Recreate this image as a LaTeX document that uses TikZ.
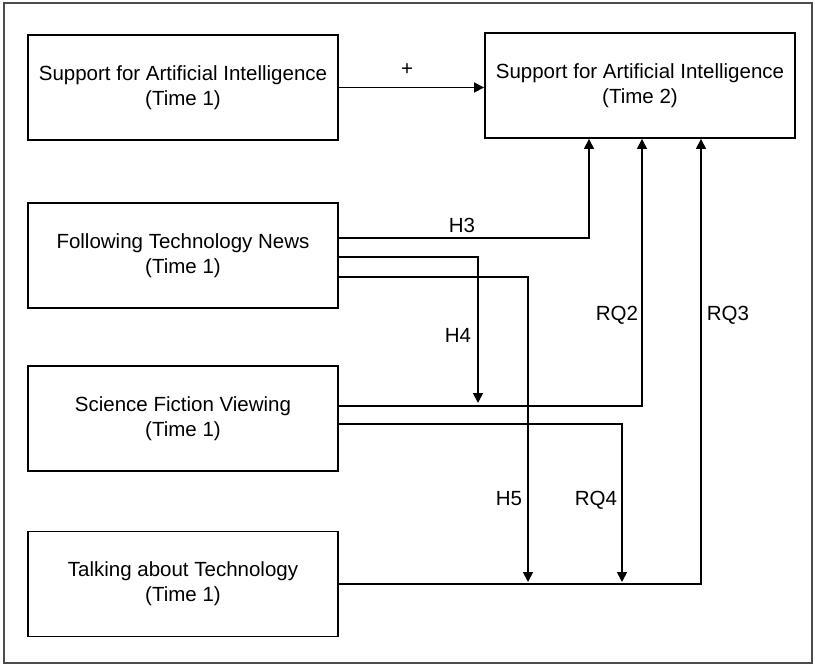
\documentclass[tikz,border=0pt]{standalone}
\usepackage{fontspec}
\setmainfont{Liberation Sans}
\usetikzlibrary{arrows.meta}

\begin{document}
\begin{tikzpicture}[x=1pt, y=-1pt,
    box/.style={draw, line width=1.9pt, minimum width=310pt, minimum height=105pt, align=center, inner sep=0pt, font=\fontsize{20.5}{25}\selectfont},
    link/.style={line width=1.7pt, -{Triangle[length=10pt, width=10pt]}},
    lbl/.style={font=\fontsize{20.5}{25}\selectfont}]
    \useasboundingbox (0,0) rectangle (815,666);
    \draw[gray!60!black, line width=1.2pt] (4,3) rectangle (812,663);

    % Boxes
    \node[box] (sai1) at (183,87.5) {Support for Artificial Intelligence\\(Time 1)};
    \node[box] (sai2) at (640,85.5) {Support for Artificial Intelligence\\(Time 2)};
    \node[box] (news) at (183,255.5) {Following Technology News\\(Time 1)};
    \node[box] (scifi) at (183,418.5) {Science Fiction Viewing\\(Time 1)};
    \node[box] (talk) at (183,584) {Talking about Technology\\(Time 1)};

    % Arrow ends on the lines
    \coordinate (h4tip) at (478,403);
    \coordinate (h5tip) at (528,582);
    \coordinate (rq4tip) at (622,582);

    % Paths
    \draw[link] (sai1.east) -- (sai1.east -| sai2.west);
    \draw[link] (news.east |- 0,238) -| (sai2.south -| 589,0);
    \draw[link] (news.east |- 0,257) -| (h4tip);
    \draw[link] (news.east |- 0,277) -| (h5tip);
    \draw[link] (scifi.east |- 0,406) -| (sai2.south -| 642,0);
    \draw[link] (scifi.east |- 0,424) -| (rq4tip);
    \draw[link] (talk.east |- 0,584) -| (sai2.south -| 701,0);

    % Labels
    \node[lbl] (plus) at (407,70) {+};
    \node[lbl] (h3) at (462,225) {H3};
    \node[lbl] (h4) at (458,335) {H4};
    \node[lbl] (h5) at (509,499) {H5};
    \node[lbl] (rq2) at (617,315) {RQ2};
    \node[lbl] (rq4) at (596,500) {RQ4};
    \node[lbl] (rq3) at (728,315) {RQ3};
\end{tikzpicture}
\end{document}
